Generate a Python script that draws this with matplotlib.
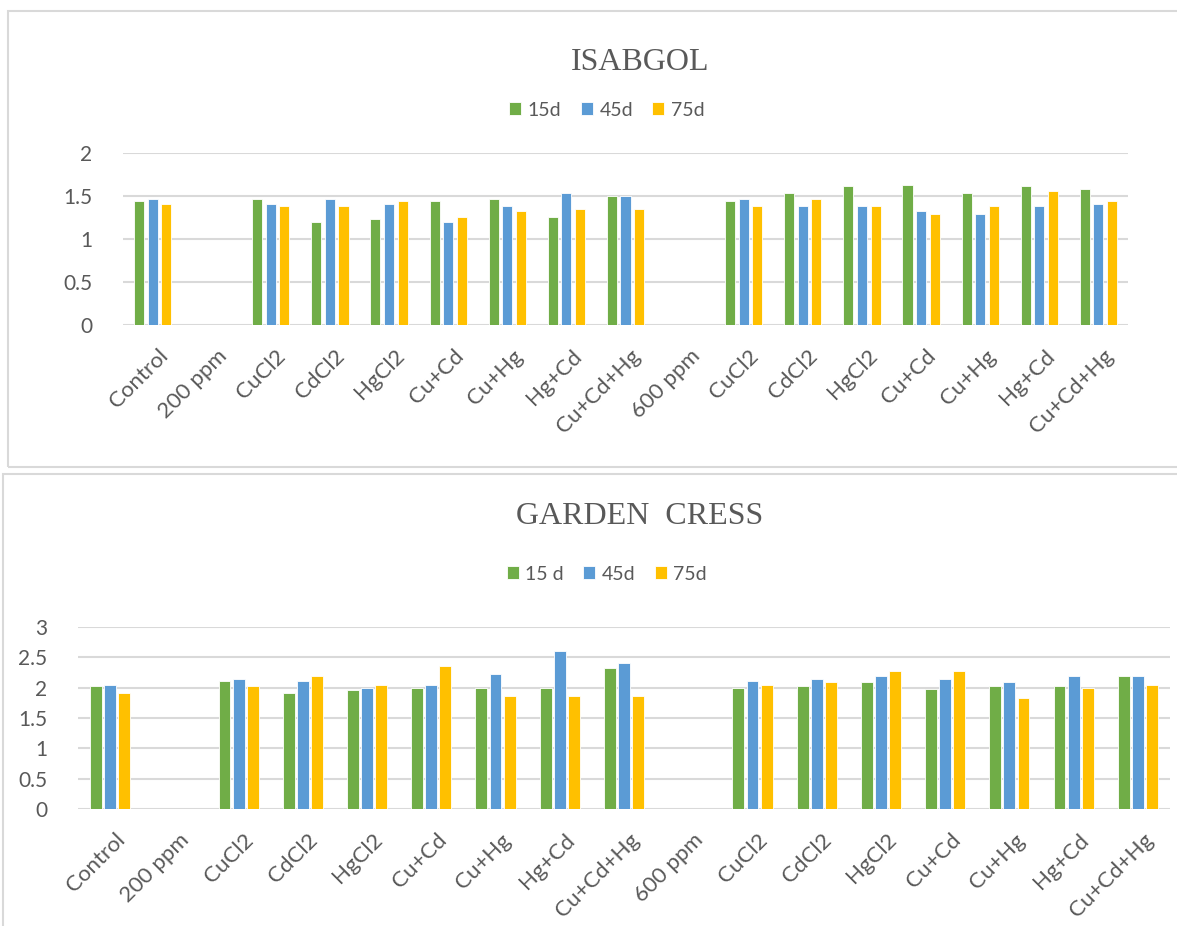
import numpy as np
import matplotlib.pyplot as plt
from matplotlib.patches import Rectangle
from matplotlib.transforms import ScaledTranslation

categories = ["Control", "200 ppm", "CuCl2", "CdCl2", "HgCl2", "Cu+Cd", "Cu+Hg",
              "Hg+Cd", "Cu+Cd+Hg", "600 ppm", "CuCl2", "CdCl2", "HgCl2", "Cu+Cd",
              "Cu+Hg", "Hg+Cd", "Cu+Cd+Hg"]

# ISABGOL (None = empty group)
isab_15d = [1.44, None, 1.47, 1.20, 1.23, 1.44, 1.47, 1.26, 1.50, None,
            1.44, 1.53, 1.62, 1.63, 1.53, 1.62, 1.58]
isab_45d = [1.47, None, 1.41, 1.47, 1.41, 1.20, 1.38, 1.53, 1.50, None,
            1.47, 1.38, 1.38, 1.32, 1.29, 1.38, 1.41]
isab_75d = [1.41, None, 1.38, 1.38, 1.44, 1.26, 1.32, 1.35, 1.35, None,
            1.38, 1.47, 1.38, 1.29, 1.38, 1.56, 1.44]

# GARDEN CRESS
gc_15d = [2.02, None, 2.11, 1.92, 1.96, 2.00, 2.00, 2.00, 2.32, None,
          2.00, 2.02, 2.09, 1.98, 2.02, 2.02, 2.20]
gc_45d = [2.05, None, 2.15, 2.11, 2.00, 2.05, 2.23, 2.60, 2.41, None,
          2.11, 2.15, 2.20, 2.15, 2.09, 2.20, 2.20]
gc_75d = [1.92, None, 2.02, 2.20, 2.05, 2.36, 1.87, 1.87, 1.87, None,
          2.05, 2.09, 2.28, 2.28, 1.83, 2.00, 2.05]

colors = ["#70AD47", "#5B9BD5", "#FFC000"]
txt = "#595959"
grid = "#D9D9D9"
W, H = 1177, 926

plt.rcParams["font.family"] = ["Lato", "DejaVu Sans"]

fig = plt.figure(figsize=(W / 100, H / 100), dpi=100)
fig.patch.set_facecolor("white")

# chart frames
fig.patches.append(Rectangle((8 / W, 1 - 467 / H), 1.2, (467 - 11) / H,
                             transform=fig.transFigure, fill=False,
                             edgecolor=grid, lw=1.5))
fig.patches.append(Rectangle((3 / W, -0.1), 1.2, 0.1 + 1 - 474 / H,
                             transform=fig.transFigure, fill=False,
                             edgecolor=grid, lw=1.5))


def draw(rect, series, names, ymax, title, title_y, leg_y, bw, pitch):
    ax = fig.add_axes(rect)
    x = np.arange(len(categories))
    for k, (vals, c, n) in enumerate(zip(series, colors, names)):
        v = np.array([np.nan if a is None else a for a in vals])
        ax.bar(x + (k - 1) * pitch, v, width=bw, color=c, label=n,
               edgecolor="white", linewidth=0.6, zorder=3)
    ax.set_xlim(-0.5, len(categories) - 0.5)
    ax.set_ylim(0, ymax)
    yt = np.arange(0, ymax + 0.01, 0.5)
    ax.set_yticks(yt)
    ax.set_yticklabels(["%g" % t for t in yt])
    ax.grid(axis="y", color=grid, lw=1.5, zorder=0)
    for s in ax.spines.values():
        s.set_visible(False)
    ax.tick_params(length=0, colors=txt, labelsize=15)
    ax.tick_params(axis="y", pad=22)
    ax.set_xticks(x)
    ax.set_xticklabels(categories, rotation=45, ha="right", va="top",
                       rotation_mode="anchor", fontsize=16, color=txt)
    ax.tick_params(axis="x", pad=15)
    shift = ScaledTranslation(5 / 100, 0, fig.dpi_scale_trans)
    for lab in ax.get_xticklabels():
        lab.set_transform(lab.get_transform() + shift)
    fig.text(640 / W, 1 - title_y / H, title, ha="center", va="center",
             fontsize=23, color=txt, family="Liberation Serif")
    ax.legend(loc="center", bbox_to_anchor=(607 / W, 1 - leg_y / H),
              bbox_transform=fig.transFigure, ncol=3,
              frameon=False, fontsize=14, labelcolor=txt, handlelength=0.6,
              handleheight=0.6, handletextpad=0.35, columnspacing=1.0)
    return ax


draw([123 / W, 1 - 325 / H, (1128 - 123) / W, (325 - 153) / H],
     [isab_15d, isab_45d, isab_75d], ["15d", "45d", "75d"], 2,
     "ISABGOL", 62, 110, 0.17, 0.23)
draw([78 / W, 1 - 809 / H, (1170 - 78) / W, (809 - 627) / H],
     [gc_15d, gc_45d, gc_75d], ["15 d", "45d", "75d"], 3,
     "GARDEN  CRESS", 517, 574, 0.185, 0.22)

fig.savefig("out.png", dpi=100, facecolor="white")
